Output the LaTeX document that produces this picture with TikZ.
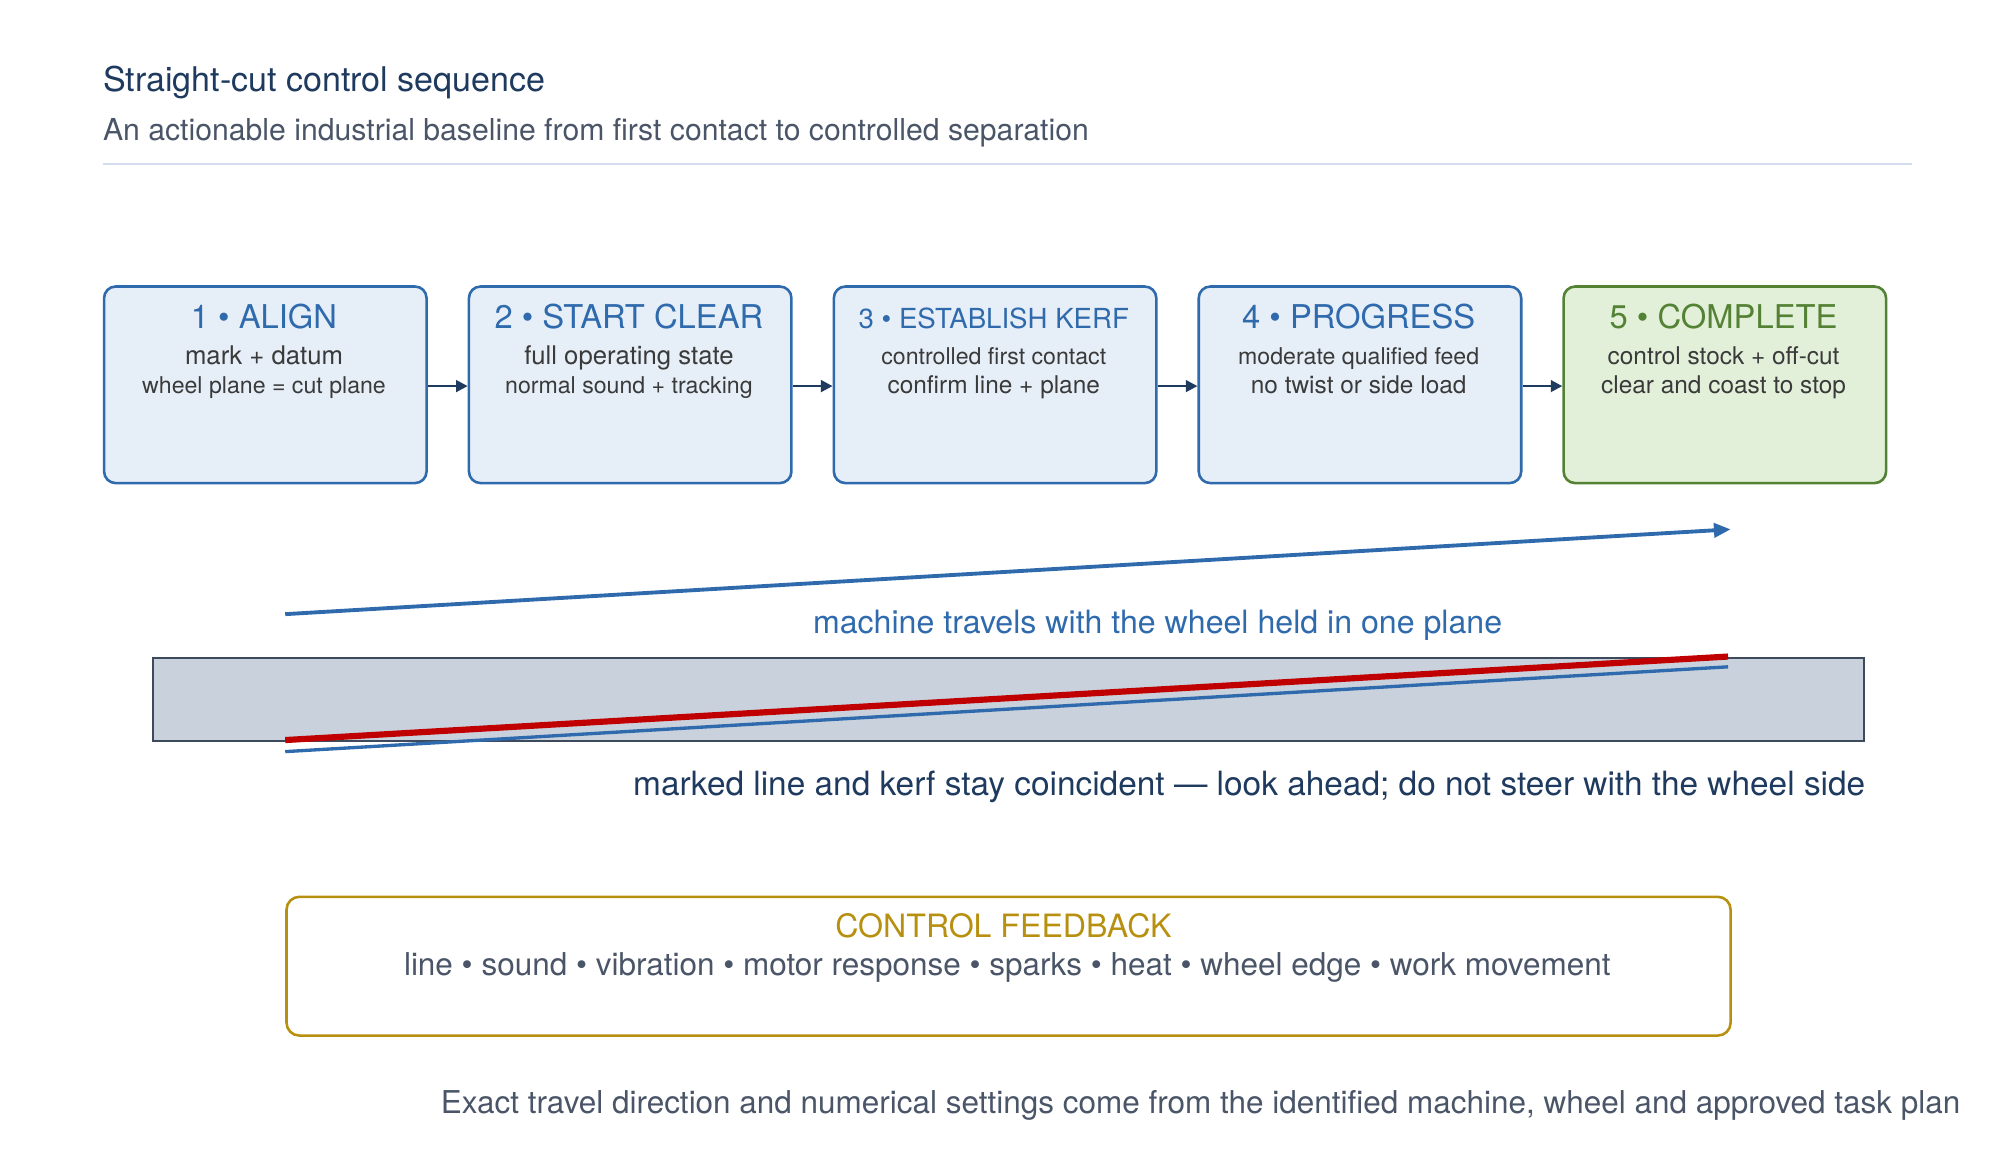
\documentclass[tikz,border=0pt]{standalone}
\usepackage{fontspec}
\setmainfont{TeX Gyre Heros}
\usetikzlibrary{arrows.meta}
\definecolor{navy}{HTML}{1F3A5F}
\definecolor{sub}{HTML}{4A5568}
\definecolor{bblue}{HTML}{2F6AAD}
\definecolor{bfill}{HTML}{E6EEF7}
\definecolor{gfill}{HTML}{E2EFD9}
\definecolor{gdraw}{HTML}{548235}
\definecolor{gold}{HTML}{B8900F}
\definecolor{txt}{HTML}{3A3A3A}
\definecolor{rule}{HTML}{D6DCF0}
\definecolor{barf}{HTML}{C8D1DC}
\definecolor{bard}{HTML}{3D4A5C}
\definecolor{cutred}{HTML}{C00000}
\newcommand{\fs}[1]{\fontsize{#1}{#1}\selectfont}
\begin{document}
\begin{tikzpicture}[x=1pt,y=-1pt,
  stage/.style={draw=bblue,fill=bfill,line width=2pt,rounded corners=9pt,minimum width=251pt,minimum height=153pt,anchor=north west},
  done/.style={stage,draw=gdraw,fill=gfill},
  flow/.style={-{Triangle[length=9pt,width=9pt]},line width=2pt,draw=navy},
  l1/.style={text=txt,anchor=base},
  l2/.style={text=txt,anchor=base}]
\useasboundingbox (0,0) rectangle (1552,903);
\node[anchor=base west,font=\fs{26.5},text=navy,inner sep=0] (t) at (80,71) {Straight-cut control sequence};
\node[anchor=base west,font=\fs{23.5},text=sub,inner sep=0] (s) at (80,109) {An actionable industrial baseline from first contact to controlled separation};
\coordinate (r1) at (80,128); \coordinate (r2) at (1488,128);
\draw[rule,line width=1.5pt] (r1)--(r2);
\foreach \i/\x/\st/\col/\ft/\a/\b/\c/\fa/\fb in {1/80/stage/bblue/25.5/{1 • ALIGN}/{mark + datum}/{wheel plane = cut plane}/20/18,
 2/364/stage/bblue/25.5/{2 • START CLEAR}/{full operating state}/{normal sound + tracking}/20/18,
 3/648/stage/bblue/21.5/{3 • ESTABLISH KERF}/{controlled first contact}/{confirm line + plane}/18/19,
 4/932/stage/bblue/25.5/{4 • PROGRESS}/{moderate qualified feed}/{no twist or side load}/18/19,
 5/1216/done/gdraw/25.5/{5 • COMPLETE}/{control stock + off-cut}/{clear and coast to stop}/19/19}{
  \node[\st] (b\i) at (\x,222) {};
  \node[anchor=base,font=\fs{\ft},text=\col] (h\i) at (\x+125.5,256) {\a};
  \node[l1,font=\fs{\fa}] (p\i) at (\x+125.5,284) {\b};
  \node[l2,font=\fs{\fb}] (q\i) at (\x+125.5,306) {\c};
}
\foreach \i/\j in {1/2,2/3,3/4,4/5}{\draw[flow] ([yshift=-1pt]b\i.east) -- ([yshift=-1pt]b\j.west);}
\coordinate (m1) at (222,478); \coordinate (m2) at (1347,412);
\draw[-{Triangle[length=13pt,width=11pt]},draw=bblue,line width=3pt] (m1)--(m2);
\node[anchor=base,font=\fs{25},text=bblue] (ml) at (901,493) {machine travels with the wheel held in one plane};
\node[draw=bard,fill=barf,line width=1.6pt,minimum width=1332pt,minimum height=65pt,anchor=north west,inner sep=0] (bar) at (118,511) {};
\coordinate (k1) at (222,585); \coordinate (k2) at (1345,519);
\coordinate (c1) at (222,576); \coordinate (c2) at (1345,511);
\draw[draw=bblue,line width=2.6pt] (k1)--(k2);
\draw[draw=cutred,line width=4.8pt] (c1)--(c2);
\node[anchor=base east,font=\fs{26},text=navy,inner sep=0] (ml2) at (1452,619) {marked line and kerf stay coincident — look ahead; do not steer with the wheel side};
\node[draw=gold,line width=2pt,rounded corners=10pt,minimum width=1124pt,minimum height=108pt,anchor=north west] (fb) at (222,697) {};
\node[anchor=base,font=\fs{25},text=gold] (fbt) at (781,730) {CONTROL FEEDBACK};
\node[anchor=base,font=\fs{24.5},text=sub] (fbl) at (784,759) {line • sound • vibration • motor response • sparks • heat • wheel edge • work movement};
\node[anchor=base east,font=\fs{24.5},text=sub,inner sep=0] (ft) at (1526,867) {Exact travel direction and numerical settings come from the identified machine, wheel and approved task plan};
\end{tikzpicture}
\end{document}
